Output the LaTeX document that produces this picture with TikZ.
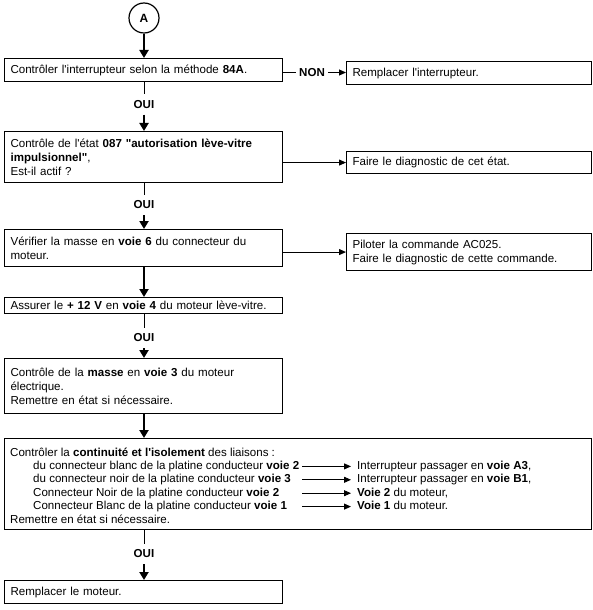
\documentclass[tikz,border=0pt]{standalone}
\usepackage{fontspec}
\setmainfont{Liberation Sans}[Ligatures=TeXOff]
\usetikzlibrary{arrows.meta}

\begin{document}
\begin{tikzpicture}[x=1bp, y=-1bp,
    texte/.style={font=\fontsize{11.6}{14}\selectfont},
    boite/.style={texte, draw, line width=1.1bp, anchor=north west, inner xsep=6bp, inner ysep=0pt, align=left},
    gauche/.style={boite, text width=266bp},
    droite/.style={boite, text width=233bp},
    ligne/.style={texte, anchor=west, inner sep=0pt, text height=8.5bp, text depth=2.5bp},
    oui/.style={texte, font=\fontsize{11.6}{14}\selectfont\bfseries, inner sep=0pt, minimum height=20bp},
    trait/.style={line width=0.9bp},
    lien/.style={line width=0.9bp, -{Triangle[length=7bp,width=6bp]}},
    fleche/.style={line width=2bp, -{Triangle[length=8bp,width=9bp]}}]

    \useasboundingbox (0,0) rectangle (593,610);

    % Depart
    \node[draw, circle, line width=1.2bp, minimum size=30bp, inner sep=0pt, font=\fontsize{12}{14}\selectfont\bfseries] (A) at (144,18) {A};

    % Colonne de gauche
    \node[gauche, minimum height=23bp] (b1) at (4,58) {Contrôler l'interrupteur selon la méthode \textbf{84A}.};
    \node[gauche, minimum height=51bp] (b2) at (4,131) {Contrôle de l'état \textbf{087 "autorisation lève-vitre}\\ \textbf{impulsionnel"},\\ Est-il actif ?};
    \node[gauche, minimum height=37bp] (b3) at (4,229) {Vérifier la masse en \textbf{voie 6} du connecteur du\\ moteur.};
    \node[gauche, minimum height=16bp] (b4) at (4,297) {Assurer le \textbf{+ 12 V} en \textbf{voie 4} du moteur lève-vitre.};
    \node[gauche, minimum height=55bp] (b5) at (4,358) {Contrôle de la \textbf{masse} en \textbf{voie 3} du moteur\\ électrique.\\ Remettre en état si nécessaire.};
    \node[boite, minimum width=587bp, minimum height=91bp] (b6) at (4,438) {};
    \node[gauche, minimum height=23bp] (b7) at (4,580) {Remplacer le moteur.};

    % Colonne de droite
    \node[droite, minimum height=23bp] (r1) at (346,61) {Remplacer l'interrupteur.};
    \node[droite, minimum height=22bp] (r2) at (346,151) {Faire le diagnostic de cet état.};
    \node[droite, minimum height=37bp] (r3) at (346,233) {Piloter la commande AC025.\\ Faire le diagnostic de cette commande.};

    % Reponses
    \node[oui] (oui1) at (144,104.5) {OUI};
    \node[oui] (oui2) at (144,205) {OUI};
    \node[oui] (oui3) at (144,338) {OUI};
    \node[oui] (oui4) at (144,554) {OUI};
    \node[oui, inner xsep=3bp] (non) at (312,72.5) {NON};

    % Liaisons verticales
    \draw[fleche] (A.south) -- (A.south |- b1.north);
    \foreach \haut/\rep/\bas in {b1/oui1/b2, b2/oui2/b3, b4/oui3/b5, b6/oui4/b7}
    {
        \draw[trait] (\haut.south -| \rep) -- (\rep.north);
        \draw[fleche] (\rep.south) -- (\rep.south |- \bas.north);
    }
    \draw[fleche] (b3.south -| A) -- (b4.north -| A);
    \draw[fleche] (b5.south -| A) -- (b6.north -| A);

    % Liaisons horizontales
    \draw[trait] (b1.east |- non.west) -- (non.west);
    \draw[lien] (non.east) -- (r1.west |- non.east);
    \draw[lien] (b2.east |- r2.west) -- (r2.west);
    \draw[lien] (b3.east |- r3.west) -- (r3.west);

    % Contenu du controle des liaisons
    \node[ligne] (titre) at (10,453) {Contrôler la \textbf{continuité et l'isolement} des liaisons :};
    \foreach \k/\de/\vers in {
        1/{du connecteur blanc de la platine conducteur \textbf{voie 2}}/{Interrupteur passager en \textbf{voie A3},},
        2/{du connecteur noir de la platine conducteur \textbf{voie 3}}/{Interrupteur passager en \textbf{voie B1},},
        3/{Connecteur Noir de la platine conducteur \textbf{voie 2}}/{\textbf{Voie 2} du moteur,},
        4/{Connecteur Blanc de la platine conducteur \textbf{voie 1}}/{\textbf{Voie 1} du moteur.}}
    {
        \node[ligne] (de\k) at (33,453+13.4*\k) {\de};
        \node[ligne] (vers\k) at (357,453+13.4*\k) {\vers};
        \coordinate (depart\k) at (302,453+13.4*\k);
        \draw[lien, shorten >=6bp] (depart\k) -- (vers\k.west);
    }
    \node[ligne] (remise) at (10,520) {Remettre en état si nécessaire.};
\end{tikzpicture}
\end{document}
